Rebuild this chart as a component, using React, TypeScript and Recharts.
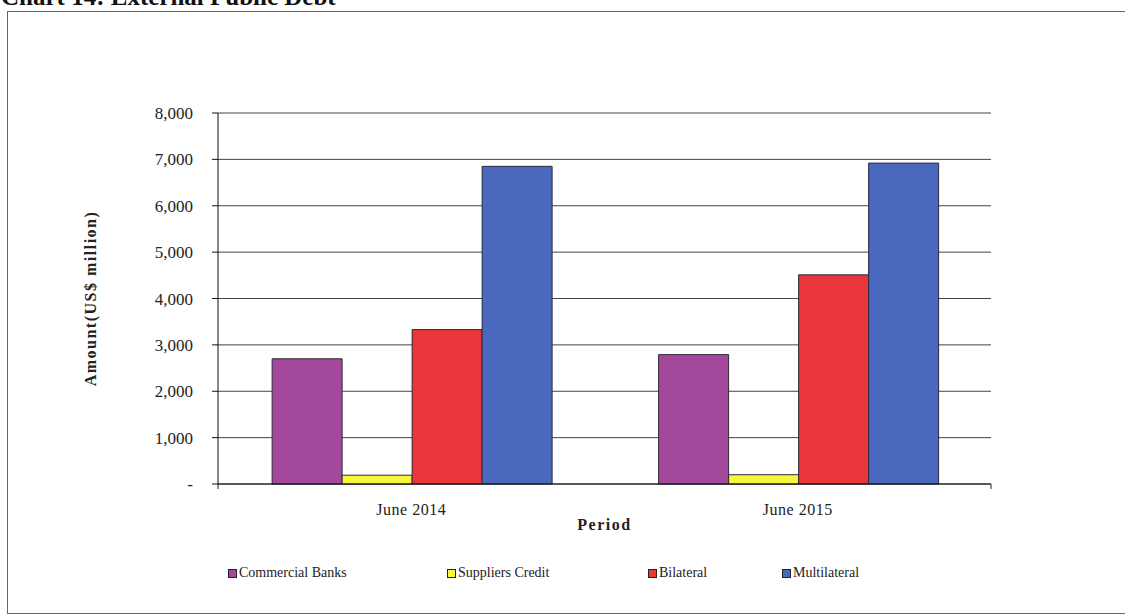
import React from "react";
import {
  BarChart,
  Bar,
  XAxis,
  YAxis,
  CartesianGrid,
  Label,
} from "recharts";

const periods = ["June 2014", "June 2015"];
const commercialBanks = [2700, 2790];
const suppliersCredit = [190, 200];
const bilateral = [3330, 4510];
const multilateral = [6850, 6920];
const yTicks = [0, 1000, 2000, 3000, 4000, 5000, 6000, 7000, 8000];

const series = [
  { key: "commercial", name: "Commercial Banks", color: "#a4489c" },
  { key: "suppliers", name: "Suppliers Credit", color: "#f7f53c" },
  { key: "bilateral", name: "Bilateral", color: "#e8363a" },
  { key: "multilateral", name: "Multilateral", color: "#4a68be" },
];

const data = periods.map((p, i) => ({
  period: p,
  commercial: commercialBanks[i],
  suppliers: suppliersCredit[i],
  bilateral: bilateral[i],
  multilateral: multilateral[i],
}));

const serif = "'Liberation Serif', 'Times New Roman', serif";

function formatTick(v: number): string {
  if (v === 0) return "-";
  return v.toLocaleString("en-US");
}

// legend slot widths, taken from the reference spacing
const legendWidths = [219, 201, 134, 140];

export default function App() {
  return (
    <div
      style={{
        position: "absolute",
        left: 0,
        top: 0,
        width: 1125,
        height: 615,
        overflow: "hidden",
        background: "#fff",
        fontFamily: serif,
      }}
    >
      <div
        style={{
          position: "absolute",
          left: 1,
          top: -16,
          fontSize: 25,
          lineHeight: "25px",
          fontWeight: "bold",
          color: "#111",
          whiteSpace: "nowrap",
        }}
      >
        Chart 14: External Public Debt
      </div>
      <div
        style={{
          position: "absolute",
          left: 7,
          top: 11,
          width: 1140,
          height: 601,
          border: "1.5px solid #666",
        }}
      />
      <div style={{ position: "absolute", left: 0, top: 0 }}>
        <BarChart
          width={1125}
          height={615}
          data={data}
          margin={{ top: 113, right: 134, bottom: 90, left: 128 }}
          barCategoryGap="14%"
          barGap={0}
        >
          <CartesianGrid
            xAxisId="b"
            yAxisId="left"
            vertical={false}
            stroke="#444"
            strokeWidth={1}
          />
          <XAxis
            xAxisId="b"
            dataKey="period"
            height={40}
            axisLine={false}
            tickLine={false}
            tick={{ fontSize: 16, fill: "#222", fontFamily: serif, letterSpacing: 0.5 }}
            tickMargin={13}
          >
            <Label
              value="Period"
              position="insideBottom"
              offset={-5}
              style={{
                fontSize: 16,
                fontWeight: "bold",
                fill: "#222",
                fontFamily: serif,
                letterSpacing: 1.5,
              }}
            />
          </XAxis>
          {/* category-boundary ticks along the base line */}
          <XAxis
            xAxisId="a"
            type="number"
            domain={[0, 2]}
            ticks={[0, 1, 2]}
            interval={0}
            height={1}
            axisLine={{ stroke: "#111" }}
            tickFormatter={() => ""}
            tick={{ fontSize: 1 }}
            tickLine={{ stroke: "#222" }}
            tickSize={5}
          />
          <YAxis
            yAxisId="left"
            domain={[0, 8000]}
            ticks={yTicks}
            width={90}
            interval={0}
            tickFormatter={formatTick}
            axisLine={{ stroke: "#111" }}
            tickLine={{ stroke: "#111" }}
            tickSize={6}
            tickMargin={19}
            tick={{ fontSize: 17, fill: "#222", fontFamily: serif }}
          >
            <Label
              value="Amount(US$ million)"
              angle={-90}
              position="insideLeft"
              offset={-38}
              style={{
                fontSize: 16,
                fontWeight: "bold",
                fill: "#222",
                fontFamily: serif,
                textAnchor: "middle",
                letterSpacing: 1.5,
              }}
            />
          </YAxis>
          <YAxis
            yAxisId="right"
            orientation="right"
            domain={[0, 8000]}
            width={0}
            tick={false}
            tickLine={false}
            axisLine={{ stroke: "#888" }}
          />
          {series.map((s) => (
            <Bar
              key={s.key}
              dataKey={s.key}
              name={s.name}
              xAxisId="b"
              yAxisId="left"
              fill={s.color}
              stroke="#2a2a3a"
              strokeWidth={1}
              isAnimationActive={false}
            />
          ))}
        </BarChart>
      </div>
      <div
        style={{
          position: "absolute",
          left: 228,
          top: 565,
          display: "flex",
          fontSize: 14,
          color: "#222",
        }}
      >
        {series.map((s, i) => (
          <div
            key={s.key}
            style={{
              width: legendWidths[i],
              display: "flex",
              alignItems: "center",
              whiteSpace: "nowrap",
            }}
          >
            <span
              style={{
                display: "inline-block",
                width: 7,
                height: 7,
                background: s.color,
                border: "1px solid #222",
                marginRight: 2,
              }}
            />
            {s.name}
          </div>
        ))}
      </div>
    </div>
  );
}
